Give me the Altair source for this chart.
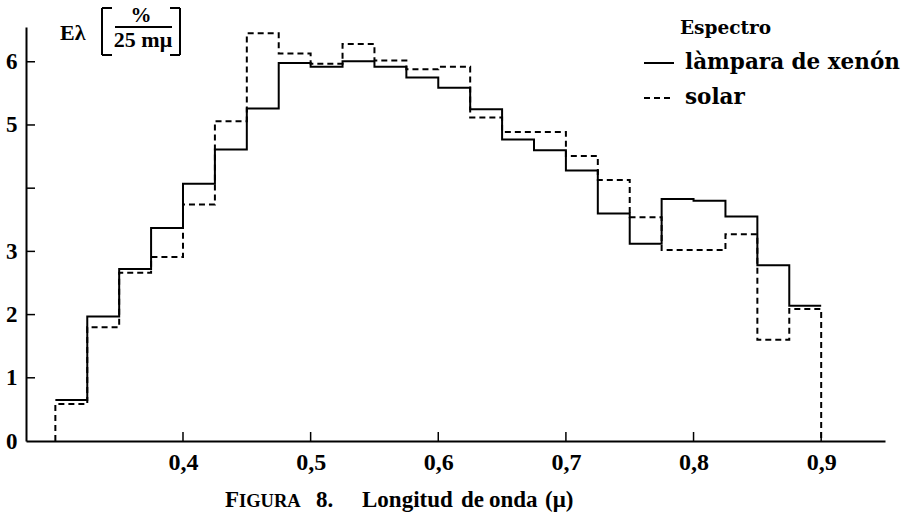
import altair as alt
import pandas as pd

# ---- data ----
bin_start = [0.300, 0.325, 0.350, 0.375, 0.400, 0.425, 0.450, 0.475,
             0.500, 0.525, 0.550, 0.575, 0.600, 0.625, 0.650, 0.675,
             0.700, 0.725, 0.750, 0.775, 0.800, 0.825, 0.850, 0.875]
bin_end = [0.325, 0.350, 0.375, 0.400, 0.425, 0.450, 0.475, 0.500,
           0.525, 0.550, 0.575, 0.600, 0.625, 0.650, 0.675, 0.700,
           0.725, 0.750, 0.775, 0.800, 0.825, 0.850, 0.875, 0.900]
xenon = [0.65, 1.97, 2.72, 3.37, 4.07, 4.61, 5.26, 5.98, 5.92, 6.01, 5.92, 5.75,
         5.59, 5.25, 4.77, 4.60, 4.28, 3.60, 3.12, 3.83, 3.80, 3.55, 2.78, 2.14]
solar = [0.585, 1.80, 2.66, 2.91, 3.74, 5.06, 6.45, 6.13, 5.97, 6.28, 6.02, 5.88,
         5.92, 5.12, 4.89, 4.89, 4.51, 4.13, 3.54, 3.02, 3.02, 3.27, 1.60, 2.09]
series_names = ["làmpara de xenón", "solar"]
x_ticks = [0.4, 0.5, 0.6, 0.7, 0.8, 0.9]
y_ticks = [1, 2, 3, 4, 5, 6]
y_labels = [0, 1, 2, 3, 4, 5, 6]

SERIF = "DejaVu Serif"
TIMES = "Liberation Serif"
W, H = 859, 414

# build step outlines
rows = []
o = 0
for name, vals, close in [(series_names[0], xenon, False), (series_names[1], solar, True)]:
    if close:
        rows.append({"x": bin_start[0], "y": 0, "s": name, "o": o}); o += 1
    for a, b, v in zip(bin_start, bin_end, vals):
        rows.append({"x": a, "y": v, "s": name, "o": o}); o += 1
        rows.append({"x": b, "y": v, "s": name, "o": o}); o += 1
    if close:
        rows.append({"x": bin_end[-1], "y": 0, "s": name, "o": o}); o += 1
df = pd.DataFrame(rows)

xscale = alt.Scale(domain=[0.277, 0.95], nice=False, zero=False)
yscale = alt.Scale(domain=[0, 6.55], nice=False)

lines = alt.Chart(df).mark_line(color="black", strokeWidth=2).encode(
    x=alt.X("x:Q", scale=xscale,
            axis=alt.Axis(values=x_ticks, ticks=False, grid=False, domainColor="black",
                          domainWidth=2, labelFont=TIMES, labelFontSize=24, labelFontWeight="bold",
                          labelColor="black", labelPadding=9,
                          labelExpr="replace(format(datum.value, '.1f'), '.', ',')",
                          title=None)),
    y=alt.Y("y:Q", scale=yscale,
            axis=alt.Axis(values=y_labels, ticks=False, grid=False, domainColor="black",
                          domainWidth=2, labelFont=TIMES, labelFontSize=23, labelFontWeight="bold",
                          labelColor="black", labelPadding=9,
                          labelExpr="datum.value == 4 ? '' : format(datum.value, 'd')", title=None)),
    strokeDash=alt.StrokeDash("s:N", scale=alt.Scale(domain=series_names, range=[[10, 0], [6, 4]]),
                              legend=alt.Legend(title=None, orient="none", legendX=617, legendY=20,
                                                labelFont=SERIF, labelFontSize=21.5, labelFontWeight="bold",
                                                labelColor="black", labelLimit=0,
                                                symbolType="stroke", symbolSize=900,
                                                symbolStrokeWidth=2, symbolStrokeColor="black",
                                                rowPadding=8, labelOffset=10)),
    detail="s:N",
    order="o:Q",
)

xt = alt.Chart(pd.DataFrame({"v": x_ticks})).mark_rule(color="black", strokeWidth=1.5).encode(
    x=alt.X("v:Q", scale=xscale), y=alt.value(H), y2=alt.value(H - 9))
yt = alt.Chart(pd.DataFrame({"v": y_ticks})).mark_rule(color="black", strokeWidth=1.5).encode(
    y=alt.Y("v:Q", scale=yscale), x=alt.value(0), x2=alt.value(9))


def txt(t, x, y, size, font=SERIF, weight="bold", align="left"):
    return alt.Chart(pd.DataFrame({"t": [t]})).mark_text(
        font=font, fontSize=size, fontWeight=weight, color="black", align=align,
        baseline="alphabetic").encode(x=alt.value(x), y=alt.value(y), text="t:N")


def seg(x1, y1, x2, y2, w=2):
    return alt.Chart(pd.DataFrame({"a": [0]})).mark_rule(color="black", strokeWidth=w).encode(
        x=alt.value(x1), x2=alt.value(x2), y=alt.value(y1), y2=alt.value(y2))


annotations = [
    # y-axis unit label  Eλ [ % / 25 mμ ]
    txt("Eλ", 34, 13, 22, font=TIMES),
    seg(76, -19, 76, 28), seg(76, -19, 86, -19), seg(76, 28, 86, 28),
    seg(154, -19, 154, 28), seg(144, -19, 154, -19), seg(144, 28, 154, 28),
    txt("%", 115, -5, 21, font=TIMES, align="center"),
    seg(89, 0, 146, 0, 2),
    txt("25 mμ", 117, 20, 22, font=TIMES, align="center"),
    # legend title
    txt("Espectro", 654, 7, 18.5),
    # x-axis caption (small caps imitation)
    txt("F", 199, 480, 23, font=TIMES),
    txt("IGURA", 213, 480, 18.5, font=TIMES),
    txt("8.", 290, 480, 23, font=TIMES),
    txt("Longitud", 336, 480, 23, font=TIMES),
    txt("de", 435, 480, 23, font=TIMES),
    txt("onda", 463, 480, 23, font=TIMES),
    txt("(μ)", 519, 480, 23, font=TIMES),
]

chart = alt.layer(lines, xt, yt, *annotations).properties(
    width=W, height=H,
    autosize=alt.AutoSizeParams(type="none"),
    padding={"left": 26, "top": 27, "right": 20, "bottom": 74},
).configure_view(stroke=None)

chart.save("out.html", embed_options={"renderer": "svg", "actions": False})
